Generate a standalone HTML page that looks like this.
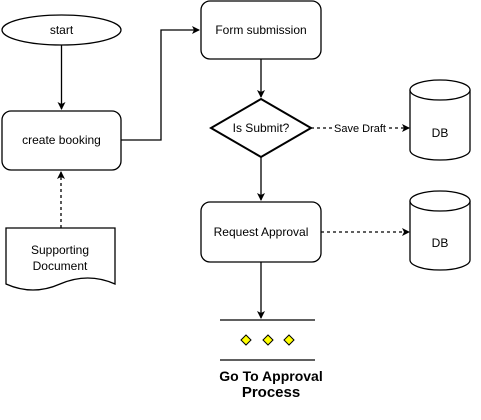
<!DOCTYPE html>
<html><head><style>body{margin:0;background:#fff}svg{display:block}text{font-family:"Liberation Sans",Arial,sans-serif;font-size:12px}</style></head>
<body>
<svg width="481" height="420" viewBox="0 0 481 420" xmlns="http://www.w3.org/2000/svg">
<defs><marker id="a" markerWidth="8" markerHeight="8" refX="7" refY="4" orient="auto" markerUnits="userSpaceOnUse"><path d="M0,0 L8,4 L0,8 L2,4 Z" fill="#000"/></marker></defs>
<g fill="#fff" stroke="#000" stroke-width="1.3">
<ellipse cx="61.5" cy="30" rx="59.5" ry="15"/>
<rect x="2" y="111" width="119" height="59" rx="9"/>
<path d="M6,228 H115 V284 Q88,272 60,284 Q33,296 6,284 Z"/>
<rect x="201" y="1" width="120" height="58" rx="9"/>
<path d="M261,99 L311,128 L261,157 L211,128 Z" stroke-width="2"/>
<rect x="201" y="202" width="120" height="60" rx="9"/>
<path d="M410,90 V150 A30,10 0 0 0 470,150 V90"/><ellipse cx="440" cy="90" rx="30" ry="10"/>
<path d="M410,201 V260 A30,10 0 0 0 470,260 V201"/><ellipse cx="440" cy="201" rx="30" ry="10"/>
</g>
<g stroke="#000" stroke-width="1.3" fill="none">
<line x1="61.5" y1="45" x2="61.5" y2="109" marker-end="url(#a)"/>
<path d="M121,140 H161 V30 H199" marker-end="url(#a)"/>
<line x1="61" y1="228" x2="61" y2="172" stroke-dasharray="3,3" marker-end="url(#a)"/>
<line x1="261" y1="59" x2="261" y2="97" marker-end="url(#a)"/>
<line x1="261" y1="157" x2="261" y2="200" marker-end="url(#a)"/>
<line x1="311" y1="128" x2="409" y2="128" stroke-dasharray="3,3" marker-end="url(#a)"/>
<line x1="321" y1="232" x2="409" y2="232" stroke-dasharray="3,3" marker-end="url(#a)"/>
<line x1="261" y1="262" x2="261" y2="318" marker-end="url(#a)"/>
<line x1="220" y1="320" x2="315" y2="320"/>
<line x1="220" y1="360" x2="315" y2="360"/>
</g>
<rect x="334" y="121" width="52" height="14" fill="#fff"/>
<g fill="#ff0" stroke="#000" stroke-width="1">
<path d="M246,335 L251,340 L246,345 L241,340Z"/><path d="M268,335 L273,340 L268,345 L263,340Z"/><path d="M289,335 L294,340 L289,345 L284,340Z"/>
</g>
<g text-anchor="middle" fill="#000">
<text x="61.5" y="34">start</text>
<text x="61.5" y="144">create booking</text>
<text x="60" y="254">Supporting</text>
<text x="60" y="270">Document</text>
<text x="261" y="34">Form submission</text>
<text x="261" y="132">Is Submit?</text>
<text x="360" y="132" style="font-size:11px">Save Draft</text>
<text x="261" y="236">Request Approval</text>
<text x="440" y="137">DB</text>
<text x="440" y="247">DB</text>
<text x="271" y="381" style="font-size:14px;font-weight:bold">Go To Approval</text>
<text x="271" y="397" style="font-size:15px;font-weight:bold">Process</text>
</g>
</svg>
</body></html>
